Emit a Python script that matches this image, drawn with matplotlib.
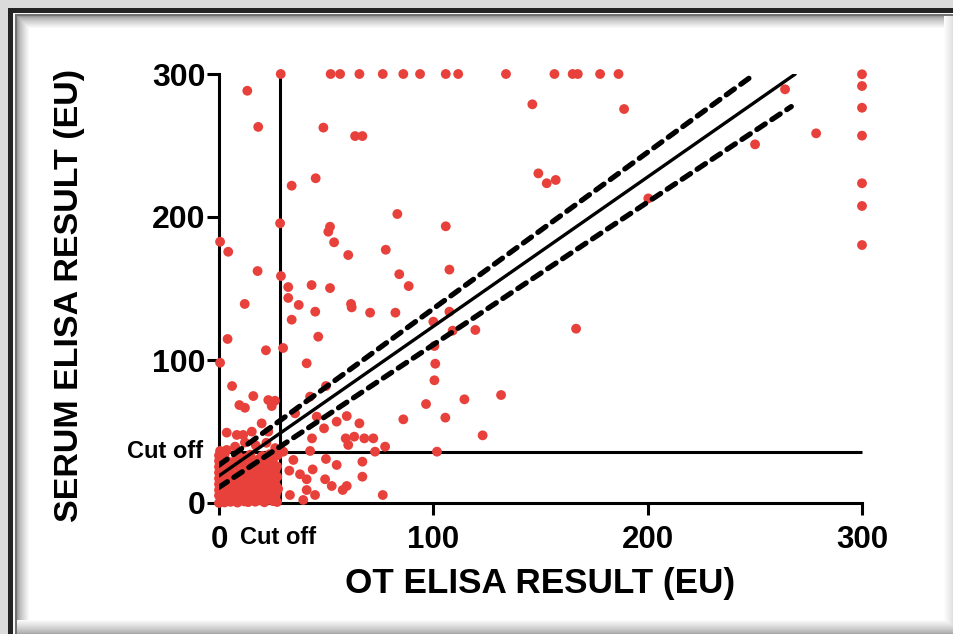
import numpy as np
import matplotlib
matplotlib.use("Agg")
import matplotlib.pyplot as plt

# ---- data -------------------------------------------------------------
# readings that saturate at the top of the serum assay (300 EU)
top_x = [28.8, 52.1, 56.5, 65.5, 76.4, 86.0, 93.8, 105.8, 111.6, 133.9,
         156.5, 165.0, 167.4, 177.8, 186.4]
top_y = [300] * len(top_x)

# readings that saturate the OT assay (300 EU)
right_y = [299.8, 291.6, 276.4, 256.9, 223.6, 207.7, 180.4]
right_x = [300] * len(right_y)

# scattered readings
mid_x = [13.2, 18.3, 48.7, 63.5, 66.9, 146.2, 189.0, 264.1, 278.6, 250.1,
         200.3, 45.1, 33.9, 83.2, 28.5, 105.8, 51.8, 51.0, 0.5, 53.7,
         4.3, 77.8, 60.3, 18.0, 107.5, 84.1, 28.9, 88.5, 32.3, 43.2,
         51.8, 32.3, 37.2, 12.0, 61.6, 61.9, 44.9, 70.5, 82.3, 33.9,
         100.0, 107.5, 109.0, 119.6, 4.0, 46.3, 100.5, 21.9, 29.9, 0.5,
         40.9, 100.9, 6.1, 100.5, 49.9, 149.0, 152.9, 157.1, 166.6, 96.6,
         114.5, 131.6, 86.0, 105.6, 123.0, 77.5, 101.7,
         16.0, 9.5, 12.1, 23.0, 26.1, 24.6, 42.5, 35.5, 45.6, 54.9,
         59.6, 65.5, 49.0, 19.9, 3.6, 8.3, 11.3, 15.3, 23.0, 59.1,
         63.1, 67.8, 72.0, 60.3, 43.4, 72.8, 42.5, 30.0, 34.7, 49.9,
         54.9, 66.9, 43.7, 32.8, 37.8, 40.9, 49.5, 66.9, 59.6, 57.7,
         52.6, 40.9, 33.1, 44.8, 39.3, 76.4, 0.5, 3.6, 7.5]
mid_y = [288.3, 263.0, 262.5, 256.6, 256.6, 278.8, 275.5, 289.3, 258.5, 250.8,
         213.0, 227.1, 221.9, 202.1, 195.6, 193.5, 193.2, 189.7, 182.7, 182.3,
         175.7, 177.1, 173.4, 162.2, 163.2, 160.0, 158.7, 151.7, 151.0, 152.4,
         150.3, 143.4, 138.5, 139.2, 139.2, 136.8, 133.8, 133.1, 133.1, 128.2,
         126.8, 133.8, 120.5, 121.0, 114.7, 116.3, 109.8, 106.8, 108.4, 98.1,
         97.7, 97.4, 81.8, 85.8, 81.8, 230.5, 223.6, 225.9, 121.9, 69.2,
         72.5, 75.5, 58.5, 59.7, 47.3, 39.4, 35.9,
         74.8, 68.5, 66.6, 72.0, 71.5, 67.8, 74.4, 62.7, 60.4, 56.9,
         60.8, 55.7, 52.2, 55.7, 49.2, 47.6, 47.6, 49.9, 49.9, 45.2,
         46.4, 45.2, 45.2, 40.6, 45.2, 35.9, 36.4, 35.9, 30.1, 30.8,
         26.6, 28.9, 23.5, 22.6, 20.1, 16.6, 16.6, 18.4, 11.9, 9.1,
         11.9, 9.1, 5.6, 5.6, 2.1, 5.6, 36.4, 37.1, 39.4]

# low readings below both cut-offs
low_x = [0.0, 1.1, 2.6, 4.1, 5.4, 7.2, 8.6, 10.1, 11.8, 13.6, 15.2, 16.9, 19.1, 21.2, 23.1, 25.2, 27.1,
         0.0, 2.1, 3.4, 6.1, 8.2, 10.4, 12.7, 14.1, 16.6, 18.2, 20.4, 22.2, 24.6, 26.4,
         0.0, 1.4, 4.6, 6.4, 9.1, 11.2, 13.1, 15.4, 17.6, 19.4, 22.6, 24.9, 27.6,
         0.0, 3.1, 5.2, 7.6, 10.1, 12.2, 14.4, 16.2, 18.4, 21.1, 23.4, 26.1,
         0.0, 2.2, 4.1, 6.2, 8.4, 11.6, 13.4, 16.1, 19.2, 21.4, 24.1, 27.2,
         0.0, 2.4, 5.1, 9.6, 12.4, 15.1, 17.4, 20.1, 23.2, 25.6,
         0.0, 3.6, 7.1, 13.2, 16.4, 19.1, 22.1, 24.4, 27.1,
         0.0, 4.4, 11.2, 18.1, 21.2, 25.1,
         0.0, 9.1, 14.6, 20.2, 23.6, 27.4,
         17.2, 22.1, 26.2, 12.1, 1.2, 5.8,
         1.8, 3.9, 6.7, 9.4, 12.9, 15.8, 18.7, 21.9, 25.4,
         1.0, 4.8, 7.9, 10.8, 13.8, 17.1, 20.3, 23.8, 26.8,
         2.9, 6.3, 8.8, 11.7, 14.9, 17.9, 20.8, 24.2, 26.9,
         1.6, 5.9, 8.1, 10.7, 14.2, 17.0, 19.8, 22.7, 25.9,
         1.9, 6.6, 10.2, 14.0, 17.8, 21.6, 26.3, 3.1, 8.0,
         5.3, 9.9, 15.6, 19.6, 24.8, 2.6, 12.6, 18.9]
low_y = [0.0, 1.2, 0.4, 2.1, 0.8, 1.6, 0.3, 2.4, 1.1, 0.6, 2.2, 0.9, 1.8, 0.5, 2.6, 1.3, 0.7,
         5.2, 4.6, 6.1, 5.4, 4.2, 6.3, 5.0, 4.4, 5.8, 6.6, 4.8, 5.5, 6.2, 4.9,
         9.1, 8.6, 9.8, 8.3, 9.4, 10.2, 8.9, 9.6, 8.4, 10.1, 9.2, 8.7, 9.9,
         13.2, 12.6, 13.9, 12.4, 14.1, 13.3, 12.8, 13.6, 14.4, 12.9, 13.5, 14.2,
         17.1, 16.4, 17.8, 16.6, 18.2, 17.3, 16.8, 17.6, 18.1, 16.9, 17.4, 18.3,
         21.2, 20.6, 21.8, 20.9, 22.1, 21.4, 20.8, 22.3, 21.6, 20.7,
         25.3, 24.6, 25.9, 24.8, 26.1, 25.2, 24.9, 26.3, 25.6,
         29.4, 28.8, 29.9, 30.2, 28.6, 29.7,
         33.2, 32.6, 33.8, 32.9, 34.1, 33.4,
         40.2, 42.1, 38.4, 42.3, 31.6, 27.2,
         3.1, 2.7, 3.4, 2.9, 3.3, 2.8, 3.6, 3.0, 3.5,
         7.3, 7.0, 7.6, 7.1, 7.4, 6.9, 7.7, 7.2, 7.5,
         11.2, 11.6, 10.9, 11.4, 11.0, 11.7, 10.8, 11.3, 11.5,
         15.3, 14.9, 15.6, 15.1, 15.4, 14.8, 15.7, 15.2, 15.5,
         19.4, 19.0, 19.6, 23.1, 22.8, 23.4, 22.9, 27.8, 31.2,
         27.6, 27.3, 28.1, 31.8, 30.6, 33.9, 31.4, 24.2]

x_all = top_x + right_x + mid_x + low_x
y_all = top_y + right_y + mid_y + low_y

# cut-off values (EU)
cutoff_ot = 28.5
cutoff_serum = 36.0

# regression line and its 95% band: (intercept, slope, last x)
fit_line = (19.0, 1.045, 268.8)
band_upper = (26.5, 1.094, 250.0)
band_lower = (11.0, 0.997, 267.0)

ticks = [0, 100, 200, 300]

# ---- figure -----------------------------------------------------------
W, H = 954, 634
fig = plt.figure(figsize=(W / 100, H / 100), dpi=100)

# picture frame with soft inner shadow
img = np.ones((H, W))
img[:, :8] = 0.86
img[:8, :] = 0.86
img[8:, 8:13] = 0.14
img[8:13, 8:] = 0.14
img[13:, 13:15] = 0.97
img[13:14, 13:] = 0.97
img[14:, 15:17] = 0.45
img[14:16, 15:] = 0.45
for k in range(12):
    v = 0.6 + 0.4 * (k / 12) ** 0.7
    img[16 + k:H - 14, 17 + k] = np.minimum(img[16 + k:H - 14, 17 + k], v)
    img[16 + k, 17 + k:W - 10] = np.minimum(img[16 + k, 17 + k:W - 10], v)
for k in range(14):
    v = 0.66 + 0.34 * (k / 14) ** 0.8
    img[H - 1 - k, 17:] = np.minimum(img[H - 1 - k, 17:], v)
for k in range(10):
    v = 0.86 + 0.14 * (k / 10) ** 0.8
    img[16:, W - 1 - k] = np.minimum(img[16:, W - 1 - k], v)
bg = fig.add_axes([0, 0, 1, 1], zorder=-1)
bg.imshow(np.dstack([img] * 3), aspect="auto", interpolation="nearest")
bg.axis("off")

x0, x1 = 219, 862
y0, y1 = 503, 74
ax = fig.add_axes([x0 / W, (H - y0) / H, (x1 - x0) / W, (y0 - y1) / H])
ax.set_facecolor("none")
ax.set_xlim(0, 300)
ax.set_ylim(0, 300)

red = "#E8413B"
ax.scatter(x_all, y_all, s=50, color=red, edgecolors="none", zorder=3,
           clip_on=False)

lw_axis = 2.2
ax.plot([cutoff_ot, cutoff_ot], [0, 300], color="black", lw=lw_axis,
        zorder=2, clip_on=False, solid_capstyle="butt")
ax.plot([0, 300], [cutoff_serum, cutoff_serum], color="black", lw=lw_axis,
        zorder=2, clip_on=False, solid_capstyle="butt")

def line_pts(spec):
    b, m, xe = spec
    xs = np.array([0.0, xe])
    return xs, b + m * xs

xs, ys = line_pts(fit_line)
ax.plot(xs, ys, color="black", lw=2.4, zorder=4, solid_capstyle="round")
for spec in (band_upper, band_lower):
    xs, ys = line_pts(spec)
    ax.plot(xs, ys, color="black", lw=3.8, zorder=4,
            linestyle=(0, (1.9, 1.5)), dash_capstyle="round")

for side in ("top", "right"):
    ax.spines[side].set_visible(False)
for side in ("left", "bottom"):
    ax.spines[side].set_linewidth(lw_axis)
    ax.spines[side].set_capstyle("projecting")

font = {"family": "Liberation Sans", "weight": "bold"}
ax.set_xticks(ticks)
ax.set_yticks(ticks)
ax.set_xticklabels([str(t) for t in ticks], fontdict=dict(font, size=22.5))
ax.set_yticklabels([str(t) for t in ticks], fontdict=dict(font, size=23))
ax.tick_params(axis="both", direction="out", length=8.5, width=lw_axis,
               colors="black")
ax.tick_params(axis="y", pad=1)
ax.tick_params(axis="x", pad=7)

# axis titles placed in figure pixels
fig.text(540 / W, 1 - 584 / H, "OT ELISA RESULT (EU)",
         fontdict=dict(font, size=25.3), ha="center", va="center")
fig.text(70 / W, 1 - 295 / H, "SERUM ELISA RESULT (EU)",
         fontdict=dict(font, size=24.5), ha="center", va="center",
         rotation=90)

ax.text(9.8, -23.8, "Cut off", fontdict=dict(font, size=17),
        ha="left", va="center", transform=ax.transData)
ax.text(-7.5, cutoff_serum, "Cut off", fontdict=dict(font, size=17),
        ha="right", va="center", transform=ax.transData)

fig.savefig("out.png", dpi=100)
